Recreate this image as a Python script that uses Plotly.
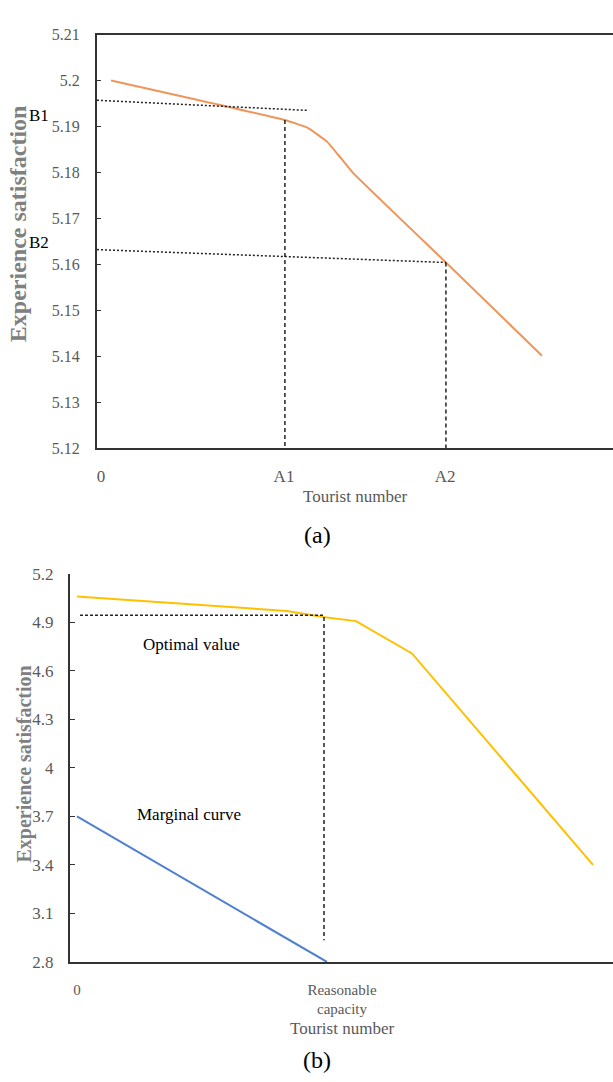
import plotly.graph_objects as go

W, H = 613, 1082

# ---------------- data: panel (a) ----------------
a_curve_x = [5.5, 100.5, 113, 123.5, 129.5, 137.7, 188.5, 241]
a_curve_y = [5.2000, 5.1914, 5.1897, 5.1867, 5.1839, 5.1799, 5.1604, 5.1401]
a_b1_x = [-2.2, 112.6]
a_b1_y = [5.1957, 5.1935]
a_a1_x = [100.5, 100.5]
a_a1_y = [5.1914, 5.12]
a_b2_x = [-2.2, 188.5]
a_b2_y = [5.1632, 5.1604]
a_a2_x = [188.5, 188.5]
a_a2_y = [5.1604, 5.12]
a_ytick_vals = [5.12, 5.13, 5.14, 5.15, 5.16, 5.17, 5.18, 5.19, 5.20, 5.21]
a_ytick_text = ["5.12", "5.13", "5.14", "5.15", "5.16", "5.17", "5.18", "5.19", "5.2", "5.21"]
a_xtick_vals = [0, 100, 188]
a_xtick_text = ["0", "A1", "A2"]

# ---------------- data: panel (b) ----------------
b_opt_x = [0, 45.6, 53.2, 84, 98.4, 111.6, 134, 206.4]
b_opt_y = [5.06, 5.012, 5.0, 4.971, 4.933, 4.908, 4.708, 3.40]
b_marg_x = [0, 100]
b_marg_y = [3.70, 2.80]
b_h_x = [1.2, 98.4]
b_h_y = [4.945, 4.945]
b_v_x = [98.8, 98.8]
b_v_y = [4.933, 2.934]
b_ytick_vals = [2.8, 3.1, 3.4, 3.7, 4.0, 4.3, 4.6, 4.9, 5.2]
b_ytick_text = ["2.8", "3.1", "3.4", "3.7", "4", "4.3", "4.6", "4.9", "5.2"]
b_xtick_vals = [0, 106]
b_xtick_text = ["0", "Reasonable<br>capacity"]

SERIF = "Liberation Serif"
GRAY = "#595959"
AX = "#333333"

fig = go.Figure()

# panel (a)
fig.add_trace(go.Scatter(x=a_curve_x, y=a_curve_y, mode="lines",
                         line=dict(color="#F0955A", width=2, shape="spline", smoothing=0.3),
                         xaxis="x", yaxis="y", showlegend=False))
for xs, ys, dash in [(a_b1_x, a_b1_y, "2px,2px"), (a_b2_x, a_b2_y, "2px,2px"),
                     (a_a1_x, a_a1_y, "4px,3px"), (a_a2_x, a_a2_y, "4px,3px")]:
    fig.add_trace(go.Scatter(x=xs, y=ys, mode="lines",
                             line=dict(color="#222222", width=1.5, dash=dash),
                             xaxis="x", yaxis="y", showlegend=False))

# panel (b)
fig.add_trace(go.Scatter(x=b_opt_x, y=b_opt_y, mode="lines",
                         line=dict(color="#FFC000", width=2),
                         xaxis="x2", yaxis="y2", showlegend=False))
fig.add_trace(go.Scatter(x=b_marg_x, y=b_marg_y, mode="lines",
                         line=dict(color="#4F7FD0", width=2),
                         xaxis="x2", yaxis="y2", showlegend=False))
fig.add_trace(go.Scatter(x=b_h_x, y=b_h_y, mode="lines",
                         line=dict(color="#222222", width=1.5, dash="3px,2px"),
                         xaxis="x2", yaxis="y2", showlegend=False))
fig.add_trace(go.Scatter(x=b_v_x, y=b_v_y, mode="lines",
                         line=dict(color="#222222", width=1.5, dash="4px,3px"),
                         xaxis="x2", yaxis="y2", showlegend=False))

tickfont_a = dict(family=SERIF, size=16, color=GRAY)
tickfont_b = dict(family=SERIF, size=17, color=GRAY)

fig.update_layout(
    width=W, height=H,
    margin=dict(l=0, r=0, t=0, b=0),
    paper_bgcolor="white", plot_bgcolor="white",
    xaxis=dict(domain=[97 / W, 1], range=[-2.19, 279.8], showgrid=False, zeroline=False,
               showline=True, linecolor=AX, linewidth=2, mirror=True,
               tickvals=a_xtick_vals, ticktext=a_xtick_text, ticks="",
               tickfont=tickfont_b, ticklabelstandoff=11),
    yaxis=dict(domain=[1 - 447 / H, 1 - 26 / H], range=[5.12, 5.21], showgrid=False,
               zeroline=False, showline=True, linecolor=AX, linewidth=2,
               tickvals=a_ytick_vals, ticktext=a_ytick_text, ticks="inside", ticklen=4,
               tickcolor=AX, tickfont=tickfont_a, ticklabelstandoff=12),
    xaxis2=dict(domain=[70 / W, 1], range=[-2.8, 214.4], showgrid=False, zeroline=False,
                showline=True, linecolor=AX, linewidth=2, anchor="y2",
                tickvals=b_xtick_vals, ticktext=b_xtick_text, ticks="",
                tickfont=dict(family=SERIF, size=15, color=GRAY), ticklabelstandoff=13),
    yaxis2=dict(domain=[1 - 970 / H, 1 - 575 / H], range=[2.8, 5.2], showgrid=False,
                zeroline=False, showline=True, linecolor=AX, linewidth=2, anchor="x2",
                tickvals=b_ytick_vals, ticktext=b_ytick_text, ticks="inside", ticklen=5,
                tickcolor=AX, tickfont=tickfont_b, ticklabelstandoff=11),
)


def note(text, px, py, size, color="black", angle=0, bold=False, family=SERIF):
    fig.add_annotation(text=text, x=px / W, y=1 - py / H, xref="paper", yref="paper",
                       xanchor="center", yanchor="middle", showarrow=False, textangle=angle,
                       font=dict(family=family, size=size, color=color,
                                 weight="bold" if bold else "normal"))


note("Experience satisfaction", 18, 219, 24, "#808080", -90, True)
note("Experience satisfaction", 24, 769, 20, "#808080", -90, True)
note("B1", 39, 108, 17)
note("B2", 39, 238, 17)
note("Tourist number", 355, 496, 17, GRAY)
note("Tourist number", 342, 1038, 17, GRAY)
note("Optimal value", 191, 647, 17)
note("Marginal curve", 189, 820, 17)
note("(a)", 317, 535, 24)
note("(b)", 317, 1070, 24)

fig.write_html("out.html")
